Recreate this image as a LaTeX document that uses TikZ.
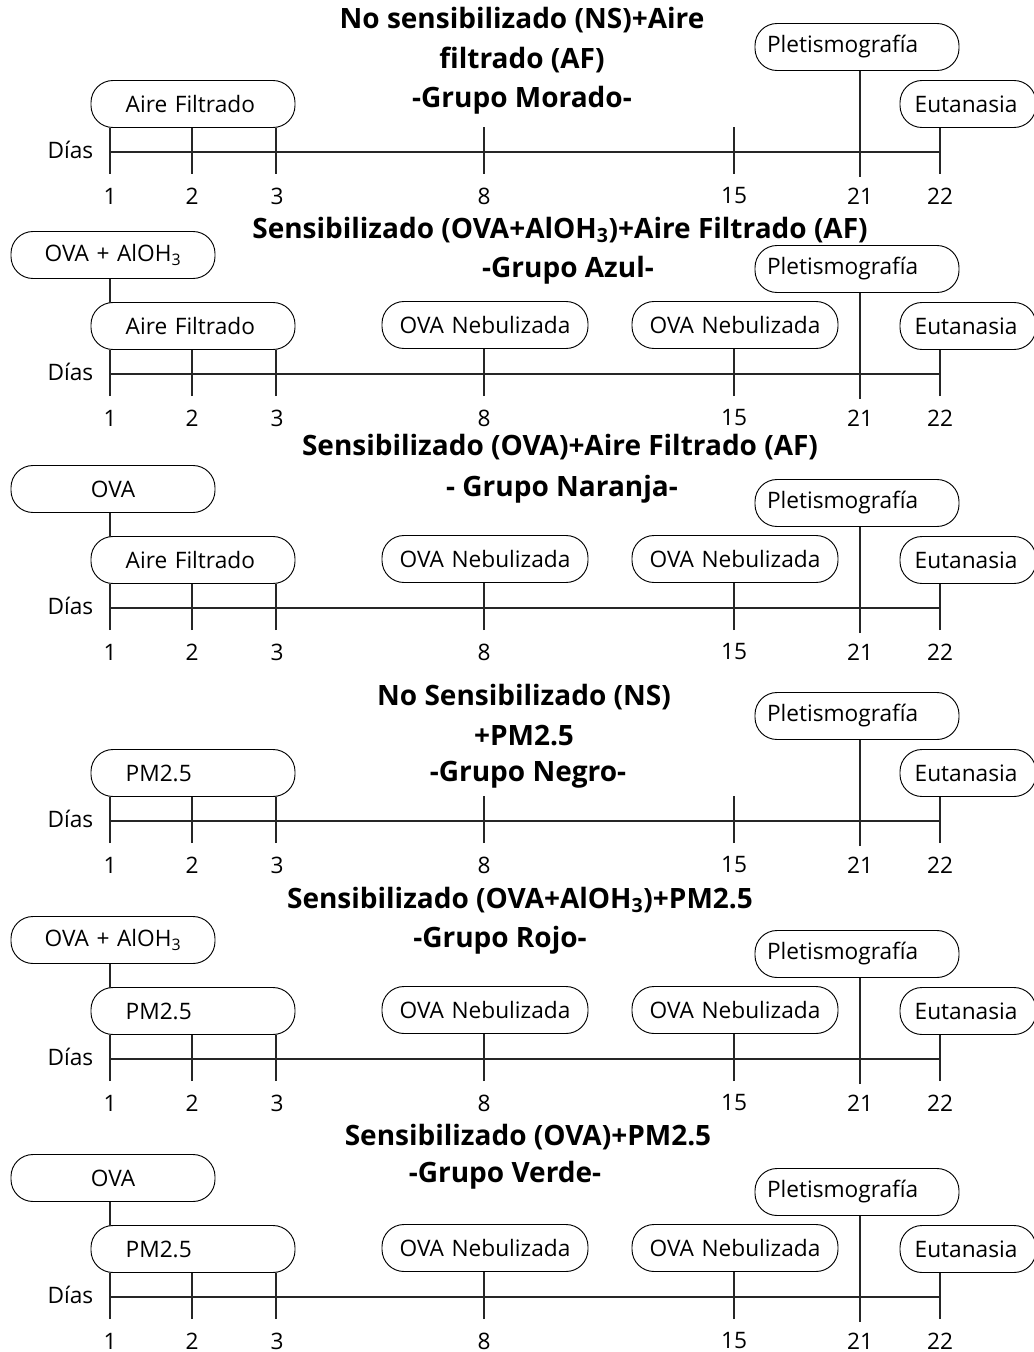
\documentclass[tikz,border=0pt]{standalone}
\usepackage{fontspec}
\setmainfont{Open Sans}
\usetikzlibrary{positioning}

\begin{document}
\begin{tikzpicture}[x=0.75pt,y=-0.75pt]
  \tikzset{caja/.style    = {draw, rounded corners = 16.5pt,
                             line width     = 0.7pt,
                             minimum height = 35.25pt,
                             inner ysep     = 0pt,
                             font           = \fontsize{17}{19}\selectfont},
           primera/.style = {caja, align=left, inner xsep=26pt, text width=101pt},
           sensi/.style   = {caja, align=center, inner xsep=0pt, text width=153pt},
           nebu/.style    = {caja, align=center, inner xsep=0pt, text width=154.5pt},
           pletis/.style  = {caja, align=left, inner xsep=9pt, text width=135pt},
           eutan/.style   = {caja, align=left, inner xsep=11pt, text width=80pt},
           titulo/.style  = {align=center, font=\bfseries\fontsize{21}{30}\selectfont},
           dia/.style     = {font=\fontsize{17}{19}\selectfont},
           eje/.style     = {line width=0.9pt, black!85}}
  \useasboundingbox (0,0) rectangle (1034,1352);
  %%% TITULOS %%%
  \node[titulo] (tit1) at (522,40)   {No sensibilizado (NS)+Aire\\filtrado (AF)};
  \node[titulo] (gru1) at (522,100)  {-Grupo Morado-};
  \node[titulo] (tit2) at (560,230)  {Sensibilizado (OVA+AlOH\textsubscript{3})+Aire Filtrado (AF)};
  \node[titulo] (gru2) at (568,270)  {-Grupo Azul-};
  \node[titulo] (tit3) at (560,447)  {Sensibilizado (OVA)+Aire Filtrado (AF)};
  \node[titulo] (gru3) at (562,489)  {- Grupo Naranja-};
  \node[titulo] (tit4) at (524,715)  {No Sensibilizado (NS)\\+PM2.5};
  \node[titulo] (gru4) at (528,775)  {-Grupo Negro-};
  \node[titulo] (tit5) at (520,900)  {Sensibilizado (OVA+AlOH\textsubscript{3})+PM2.5};
  \node[titulo] (gru5) at (500,940)  {-Grupo Rojo-};
  \node[titulo] (tit6) at (528,1137) {Sensibilizado (OVA)+PM2.5};
  \node[titulo] (gru6) at (505,1175) {-Grupo Verde-};
  %%% LINEAS DE DIAS %%%
  \foreach \Y/\pri in {152/Aire Filtrado, 374/Aire Filtrado, 608/Aire Filtrado,
                       821/PM2.5, 1059/PM2.5, 1297/PM2.5}{
    \begin{scope}[shift={(0,\Y)}]
      \node[primera] (pri) at (193,-48)  {\pri};
      \node[pletis]  (ple) at (857,-105) {Pletismografía};
      \node[eutan]   (eut) at (968,-48)  {Eutanasia};
      \node[dia, anchor=east] (dias) at (98,-2) {Días};
      \coordinate (ini) at (110,0);
      \coordinate (fin) at (940,0);
      \draw[eje] (ini) -- (fin);
      \foreach \d/\x in {1/110,2/192,3/276}{
        \coordinate (b\d) at (\x,22);
        \draw[eje] (b\d) -- (b\d |- pri.south);
      }
      \foreach \d/\x in {8/484,15/734}{
        \coordinate (b\d) at (\x,22);
        \coordinate (a\d) at (\x,-25);
        \draw[eje] (b\d) -- (a\d);
      }
      \coordinate (b21) at (860,25);
      \draw[eje] (b21) -- (b21 |- ple.south);
      \coordinate (b22) at (940,22);
      \draw[eje] (b22) -- (b22 |- eut.south);
      \foreach \d/\x in {1/110,2/192,3/277,8/484,15/734,21/860,22/940}
        \node[dia] (n\d) at (\x,44) {\d};
    \end{scope}
  }
  %%% GRUPOS SENSIBILIZADOS %%%
  \foreach \Y/\sen in {374/OVA + AlOH\textsubscript{3}, 608/OVA,
                       1059/OVA + AlOH\textsubscript{3}, 1297/OVA}{
    \begin{scope}[shift={(0,\Y)}]
      \node[sensi] (sen)   at (113,-119) {\sen};
      \node[nebu]  (neb8)  at (485,-49)  {OVA Nebulizada};
      \node[nebu]  (neb15) at (735,-49)  {OVA Nebulizada};
      \coordinate (arriba) at (110,-71.5);
      \draw[eje] (arriba) -- (arriba |- sen.south);
    \end{scope}
  }
\end{tikzpicture}
\end{document}
